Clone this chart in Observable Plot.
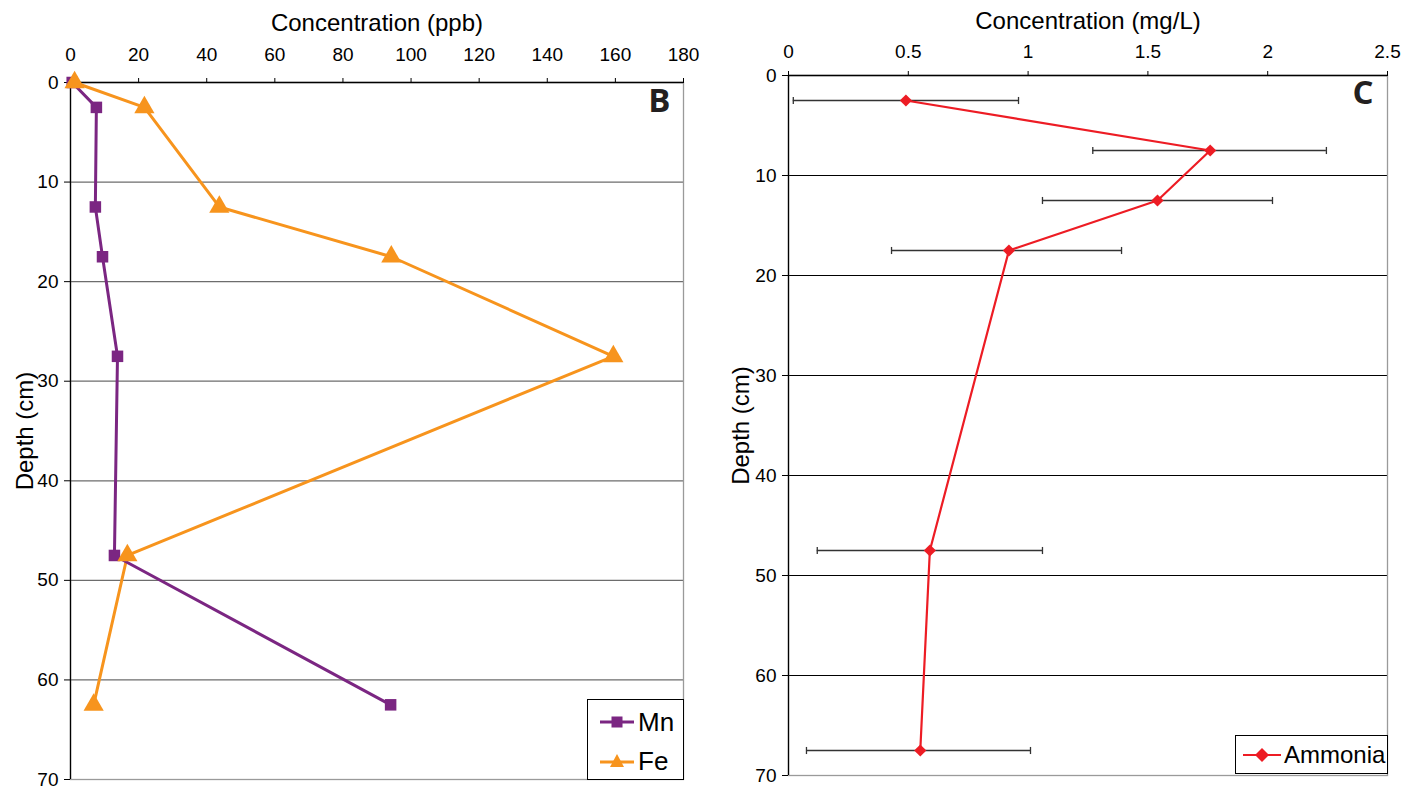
<!DOCTYPE html>
<html>
<head>
<meta charset="utf-8">
<script src="https://cdn.jsdelivr.net/npm/d3@7"></script>
<script src="https://cdn.jsdelivr.net/npm/@observablehq/plot@0.6"></script>
<style>
  html, body { margin: 0; padding: 0; background: #fff; }
  #wrap { position: relative; width: 1402px; height: 786px; overflow: hidden; background: #fff; }
  #left, #right { position: absolute; top: 0; }
  #left { left: 0; }
  #right { left: 700px; }
  .legend { position: absolute; background: #fff; border: 1px solid #000; box-sizing: border-box;
            font-family: "Liberation Sans", Arial, sans-serif; color: #000; }
  .legend .row { display: flex; align-items: center; }
</style>
</head>
<body>
<div id="wrap">
  <div id="left"></div>
  <div id="right"></div>
  <div class="legend" id="legB" style="left:587px; top:699px; width:97px; height:81px; padding-left:12px;">
    <div class="row" style="height:40px; margin-top:2px; font-size:26px;"><svg width="36" height="14"><line x1="0" y1="7" x2="34" y2="7" stroke="#7b2682" stroke-width="3"/><rect x="11.5" y="1.5" width="11" height="11" fill="#7b2682"/></svg><span style="margin-left:2px">Mn</span></div>
    <div class="row" style="height:38px; font-size:26px;"><svg width="36" height="14"><line x1="0" y1="8" x2="34" y2="8" stroke="#f7941d" stroke-width="3"/><path d="M17,0 L24,13 L10,13 Z" fill="#f7941d"/></svg><span style="margin-left:2px">Fe</span></div>
  </div>
  <div class="legend" id="legC" style="left:1235px; top:735px; width:153px; height:39px; padding-left:7px;">
    <div class="row" style="height:37px; font-size:24px;"><svg width="40" height="14"><line x1="0" y1="7" x2="38" y2="7" stroke="#ed1c24" stroke-width="2"/><path d="M19,0 L26,7 L19,14 L12,7 Z" fill="#ed1c24"/></svg><span style="margin-left:1px">Ammonia</span></div>
  </div>
</div>
<script>
// ---- Data ----
const depthMetals = [0, 2.5, 12.5, 17.5, 27.5, 47.5, 62.5];
const mnValues = [0.5, 7.6, 7.3, 9.4, 13.8, 12.9, 94];
const feValues = [1.2, 21.7, 43.7, 94.2, 159.4, 16.7, 6.8];

const depthAmmonia = [2.5, 7.5, 12.5, 17.5, 47.5, 67.5];
const ammoniaValues = [0.49, 1.76, 1.54, 0.92, 0.59, 0.55];
const ammoniaLow = [0.02, 1.27, 1.06, 0.43, 0.12, 0.075];
const ammoniaHigh = [0.96, 2.245, 2.02, 1.39, 1.06, 1.01];

const xTicksB = [0, 20, 40, 60, 80, 100, 120, 140, 160, 180];
const xTicksC = [0, 0.5, 1, 1.5, 2, 2.5];
const yTicks = [0, 10, 20, 30, 40, 50, 60, 70];
const gridTicks = [10, 20, 30, 40, 50, 60];

const font = "'Liberation Sans', Arial, sans-serif";
const tickFont = "'Liberation Sans Narrow', 'Arial Narrow', 'Liberation Sans', Arial, sans-serif";

const mn = depthMetals.map((d, i) => ({depth: d, value: mnValues[i]}));
const fe = depthMetals.map((d, i) => ({depth: d, value: feValues[i]}));
const amm = depthAmmonia.map((d, i) => ({depth: d, value: ammoniaValues[i], lo: ammoniaLow[i], hi: ammoniaHigh[i]}));

const capSymbol = {draw(ctx, size) { const h = Math.sqrt(size) / 2; ctx.moveTo(0, -h); ctx.lineTo(0, h); }};

const chartB = Plot.plot({
  width: 700, height: 786,
  marginLeft: 70, marginRight: 17, marginTop: 82, marginBottom: 7,
  style: {fontFamily: font, fontSize: "16px", color: "#000", background: "transparent"},
  x: {domain: [0, 180], axis: null},
  y: {domain: [0, 70], reverse: true, axis: null},
  marks: [
    Plot.gridY(gridTicks, {stroke: "#6d6d6d", strokeOpacity: 1, strokeWidth: 1.3}),
    Plot.frame({stroke: "#9a9a9a", strokeWidth: 1.3}),
    Plot.axisX({anchor: "top", ticks: xTicksB, tickSize: 5, tickPadding: 17, label: null, fontSize: 19, fontFamily: tickFont}),
    Plot.axisY({anchor: "left", ticks: yTicks, tickSize: 6, tickPadding: 6, label: null, fontSize: 19, fontFamily: tickFont}),
    Plot.ruleX([0], {stroke: "#000", strokeWidth: 1.3}),
    Plot.ruleY([0], {stroke: "#000", strokeWidth: 1.3}),
    Plot.line(fe, {x: "value", y: "depth", stroke: "#f7941d", strokeWidth: 3}),
    Plot.line(mn, {x: "value", y: "depth", stroke: "#7b2682", strokeWidth: 3}),
    Plot.dot(mn, {x: "value", y: "depth", symbol: "square", r: 6.5, fill: "#7b2682", stroke: "none"}),
    Plot.dot(fe, {x: "value", y: "depth", symbol: "triangle", r: 7.5, fill: "#f7941d", stroke: "none"}),
    Plot.text(["Concentration (ppb)"], {frameAnchor: "top", dy: -69, fontSize: 24, fill: "#000"}),
    Plot.text(["Depth (cm)"], {frameAnchor: "left", dx: -45, rotate: -90, textAnchor: "middle", lineAnchor: "middle", fontSize: 24, fill: "#000"}),
    Plot.text(["B"], {frameAnchor: "top-right", dx: -13, dy: 6, fontSize: 33, fontWeight: "bold", fill: "#231f20", fontFamily: "'Open Sans', sans-serif"})
  ]
});
document.getElementById("left").appendChild(chartB);

const chartC = Plot.plot({
  width: 702, height: 786,
  marginLeft: 88, marginRight: 15, marginTop: 75, marginBottom: 11,
  style: {fontFamily: font, fontSize: "16px", color: "#000", background: "transparent"},
  x: {domain: [0, 2.5], axis: null},
  y: {domain: [0, 70], reverse: true, axis: null},
  marks: [
    Plot.gridY(gridTicks, {stroke: "#000", strokeOpacity: 1, strokeWidth: 1.1}),
    Plot.frame({stroke: "#9a9a9a", strokeWidth: 1.3}),
    Plot.axisX({anchor: "top", ticks: xTicksC, tickFormat: d => String(d), tickSize: 5, tickPadding: 13, label: null, fontSize: 19, fontFamily: tickFont}),
    Plot.axisY({anchor: "left", ticks: yTicks, tickSize: 6, tickPadding: 6, label: null, fontSize: 19, fontFamily: tickFont}),
    Plot.ruleX([0], {stroke: "#000", strokeWidth: 1.3}),
    Plot.ruleY([0], {stroke: "#000", strokeWidth: 1.3}),
    Plot.ruleY(amm, {y: "depth", x1: "lo", x2: "hi", stroke: "#333", strokeWidth: 1.3}),
    Plot.dot(amm, {x: "lo", y: "depth", symbol: capSymbol, r: 4, stroke: "#333", strokeWidth: 1.3, fill: "none"}),
    Plot.dot(amm, {x: "hi", y: "depth", symbol: capSymbol, r: 4, stroke: "#333", strokeWidth: 1.3, fill: "none"}),
    Plot.line(amm, {x: "value", y: "depth", stroke: "#ed1c24", strokeWidth: 2.2}),
    Plot.dot(amm, {x: "value", y: "depth", symbol: "diamond2", r: 5.5, fill: "#ed1c24", stroke: "none"}),
    Plot.text(["Concentration (mg/L)"], {frameAnchor: "top", dy: -64, fontSize: 24, fill: "#000"}),
    Plot.text(["Depth (cm)"], {frameAnchor: "left", dx: -47, rotate: -90, textAnchor: "middle", lineAnchor: "middle", fontSize: 24, fill: "#000"}),
    Plot.text(["C"], {frameAnchor: "top-right", dx: -14, dy: 5, fontSize: 33, fontWeight: "bold", fill: "#231f20", fontFamily: "'Open Sans', sans-serif"})
  ]
});
document.getElementById("right").appendChild(chartC);
</script>
</body>
</html>
